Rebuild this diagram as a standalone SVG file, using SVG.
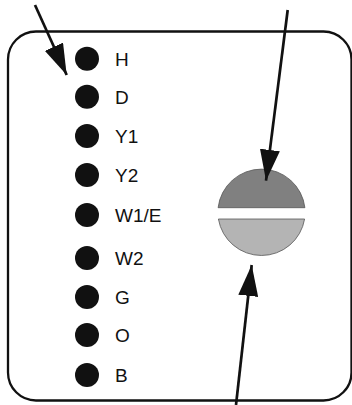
<svg xmlns="http://www.w3.org/2000/svg" width="352" height="405" viewBox="0 0 352 405">
<style>
.dot{fill:#111}
.lbl{font-family:"Liberation Sans",Arial,sans-serif;font-size:19px;fill:#111}
.arr{stroke:#111;stroke-width:2.7;fill:none;marker-end:url(#ah)}
</style>
<defs>
<marker id="ah" viewBox="0 0 31 20" refX="31" refY="10" markerWidth="31" markerHeight="20" markerUnits="userSpaceOnUse" orient="auto">
<path d="M0,0 L31,10 L0,20 z" fill="#111"/>
</marker>
</defs>
<rect width="352" height="405" fill="#fff"/>
<g id="housing">
<rect x="8" y="31.5" width="343.5" height="369" rx="28" ry="28" fill="none" stroke="#111" stroke-width="2.3"/>
</g>
<g id="terminal-H"><circle class="dot" cx="87" cy="58.7" r="12"/><text class="lbl" x="115" y="66">H</text></g>
<g id="terminal-D"><circle class="dot" cx="87" cy="96.7" r="12"/><text class="lbl" x="115" y="104">D</text></g>
<g id="terminal-Y1"><circle class="dot" cx="87" cy="136" r="12"/><text class="lbl" x="115" y="143">Y1</text></g>
<g id="terminal-Y2"><circle class="dot" cx="87" cy="175" r="12"/><text class="lbl" x="115" y="182">Y2</text></g>
<g id="terminal-W1E"><circle class="dot" cx="87" cy="215" r="12"/><text class="lbl" x="115" y="222">W1/E</text></g>
<g id="terminal-W2"><circle class="dot" cx="87" cy="258" r="12"/><text class="lbl" x="115" y="265">W2</text></g>
<g id="terminal-G"><circle class="dot" cx="87" cy="297" r="12"/><text class="lbl" x="115" y="304">G</text></g>
<g id="terminal-O"><circle class="dot" cx="87" cy="335" r="12"/><text class="lbl" x="115" y="342">O</text></g>
<g id="terminal-B"><circle class="dot" cx="87" cy="375" r="12"/><text class="lbl" x="115" y="382">B</text></g>
<g id="lens">
<path d="M218.1,207.7 A43.7,43.7 0 0 1 304.9,207.7 Z" fill="#808080" stroke="#555" stroke-width="0.8"/>
<path d="M218.4,219 A43.7,43.7 0 0 0 304.6,219 Z" fill="#b4b4b4" stroke="#555" stroke-width="0.8"/>
</g>
<g id="connectors">
<path class="arr" d="M35,5 L66.7,75"/>
<path class="arr" d="M287.7,10 L266,180.7"/>
<path class="arr" d="M236,405 L251.7,265"/>
</g>
</svg>
